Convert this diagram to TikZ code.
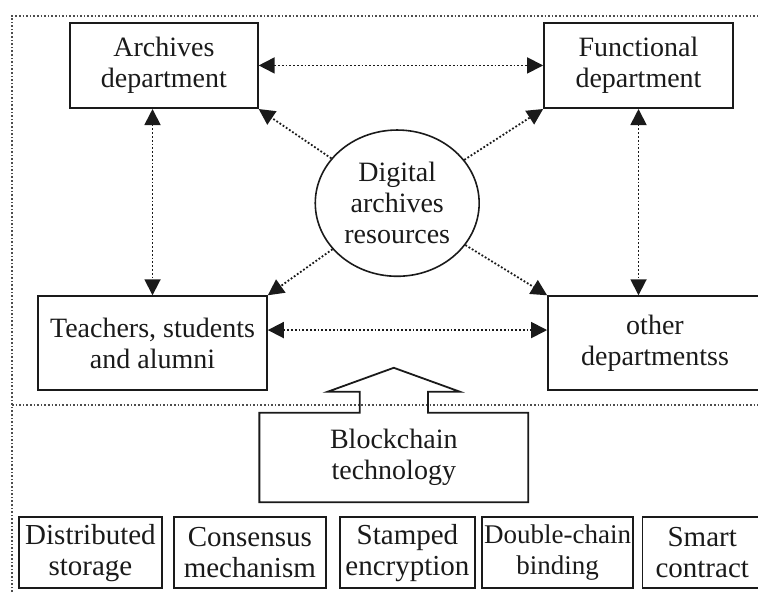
\documentclass[tikz,border=0pt]{standalone}
\usepackage{fontspec}
\setmainfont{Liberation Serif}
\usepackage{tikz}
\usetikzlibrary{
  positioning, arrows.meta, shapes.geometric, calc
}
\definecolor{inkDark}{HTML}{1A1A1A}
\definecolor{frameGray}{HTML}{4D4D4D}

\begin{document}
\begin{tikzpicture}[
  every node/.style={font=\fontsize{14}{15.5}\selectfont, text=inkDark},
  dept/.style={
    rectangle, draw=inkDark, line width=0.9pt,
    minimum width=#1, minimum height=1.5cm,
    align=center, inner sep=1pt
  },
  tech/.style={
    rectangle, draw=inkDark, line width=0.9pt,
    minimum width=#1, minimum height=1.25cm,
    align=center, inner sep=1pt, font=\fontsize{14.5}{15.5}\selectfont
  },
  link/.style={
    inkDark, densely dotted, line width=0.9pt,
    {Triangle[length=8pt,width=8pt]}-{Triangle[length=8pt,width=8pt]}
  },
  spread/.style={
    inkDark, densely dotted, line width=0.9pt,
    -{Triangle[length=8pt,width=8pt]}
  },
  frame/.style={frameGray, densely dotted, line width=0.8pt},
]

\useasboundingbox (0,0) rectangle (13.32,10.42);

% Outer frame and divider
\draw[frame] (0.21,-0.3) -- (0.21,10.14) -- (13.6,10.14);
\draw[frame] (0.21,3.30) -- (13.6,3.30);

% Departments
\node[dept=3.30cm] (arch) at (2.88,9.27) {Archives\\department};
\node[dept=3.32cm] (func) at (11.22,9.27) {Functional\\department};
\node[dept=4.02cm, minimum height=1.65cm] (users) at (2.68,4.39) {Teachers, students\\and alumni};
\node[dept=3.76cm, minimum height=1.65cm] (other) at (11.51,4.39) {other\\departmentss};

% Shared resources
\node[ellipse, draw=inkDark, line width=0.8pt, minimum width=2.88cm, minimum height=2.57cm,
  align=center, inner sep=0pt] (res) at (6.98,6.85) {Digital\\archives\\resources};

% Links between departments
\draw[link] (arch.east) -- (func.west);
\draw[link] (users.north |- arch.south) -- (users.north);
\draw[link] (func.south) -- (func.south |- other.north);
\draw[link] ([yshift=0.23cm]users.east) -- ([yshift=0.23cm]users.east -| other.west);

% Resources out to every department
\draw[spread] (res) -- (arch.south east);
\draw[spread] (res) -- (func.south west);
\draw[spread] (res) -- (users.north east);
\draw[spread] (res) -- (other.north west);

% Blockchain support, box with arrow on top
\node[minimum width=4.71cm, minimum height=1.56cm, align=center] (chain) at (6.92,2.38) {Blockchain\\technology};
\draw[inkDark, line width=0.9pt]
  (chain.north west) -- ($(chain.north)+(-0.60,0)$) -- ++(0,0.37) -- ++(-0.56,0)
  -- ($(chain.north)+(0,0.79)$) -- ($(chain.north)+(1.16,0.37)$) -- ++(-0.56,0)
  -- ++(0,-0.37) -- (chain.north east) -- (chain.south east) -- (chain.south west) -- cycle;

% Blockchain features
\node[tech=2.51cm] (store) at (1.59,0.71) {Distributed\\storage};
\node[tech=2.67cm] (cons) at (4.39,0.71) {Consensus\\mechanism};
\node[tech=2.37cm] (stamp) at (7.16,0.71) {Stamped\\encryption};
\node[tech=2.58cm, font=\fontsize{13.5}{15.5}\selectfont] (bind) at (9.80,0.71) {Double-chain\\binding};
\node[tech=2.10cm] (smart) at (12.34,0.71) {Smart\\contract};

\end{tikzpicture}
\end{document}
